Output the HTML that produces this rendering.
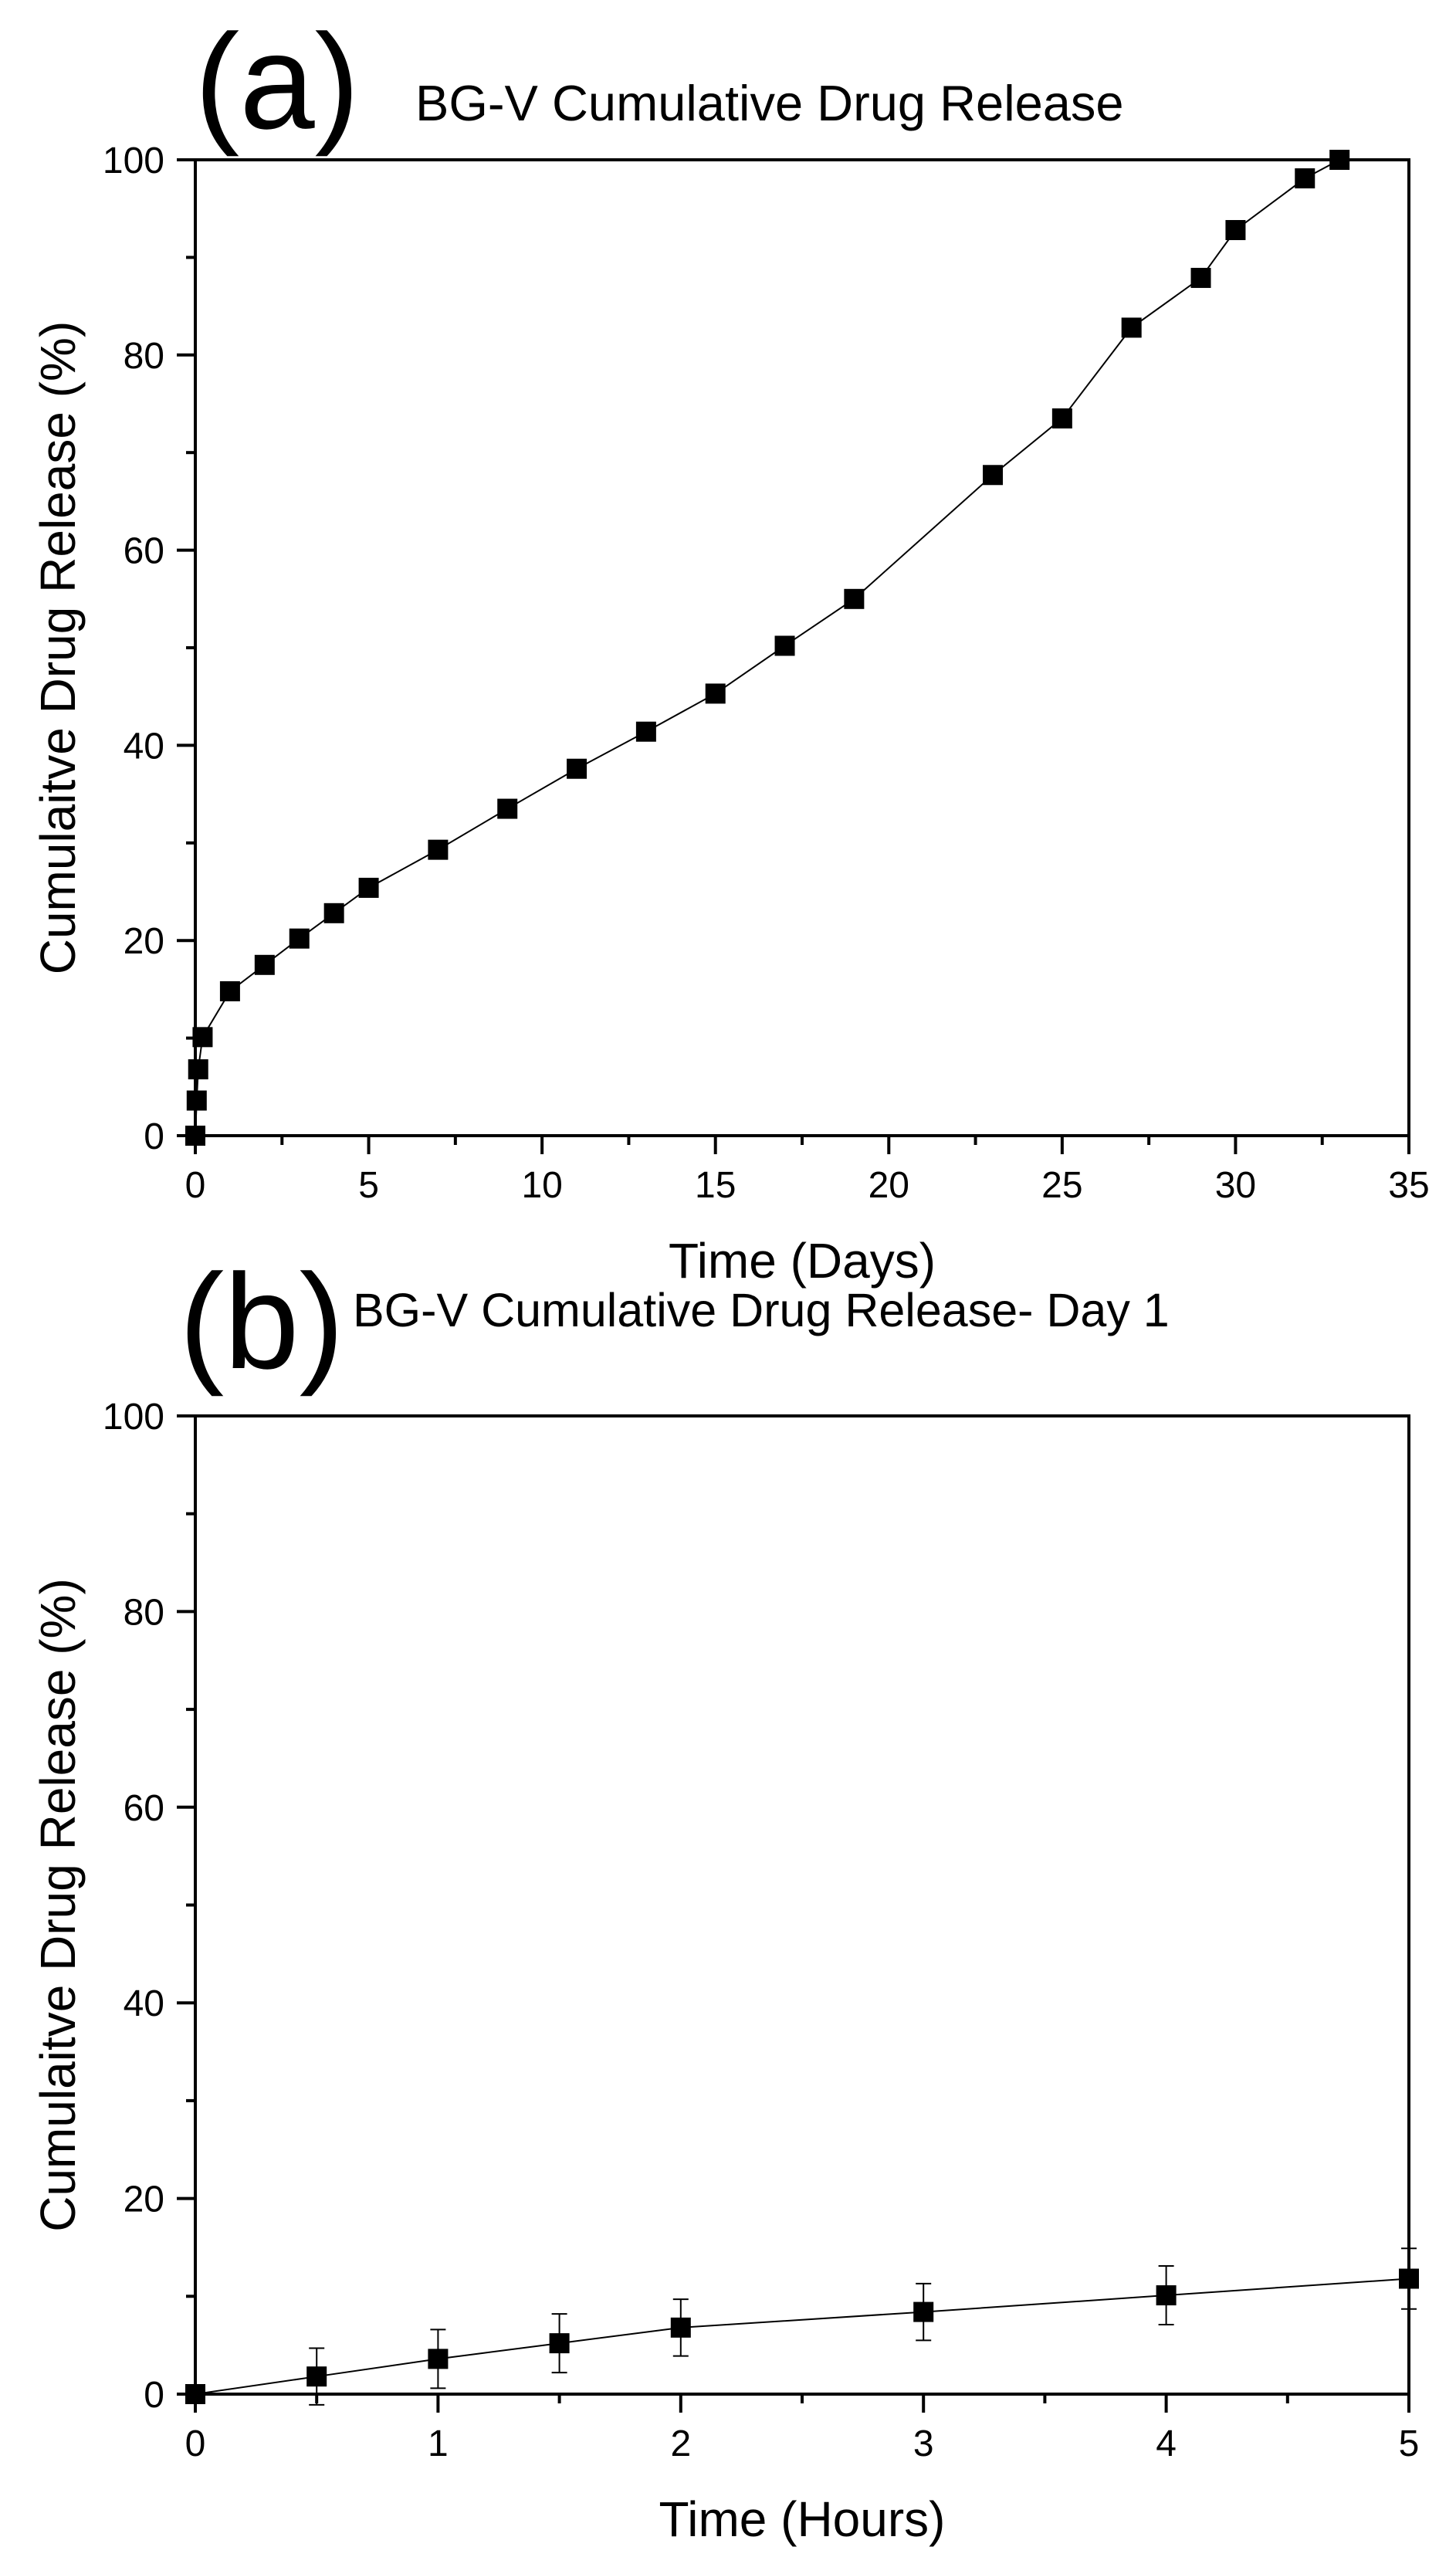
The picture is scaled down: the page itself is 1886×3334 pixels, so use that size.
<!DOCTYPE html>
<html><head><meta charset="utf-8"><style>
html,body{margin:0;padding:0;background:#fff;}
svg{display:block;font-family:"Liberation Sans",Arial,sans-serif;}
</style></head><body>
<svg id="fig" width="1886" height="3334" viewBox="0 0 1886 3334" xmlns="http://www.w3.org/2000/svg">
<rect x="0" y="0" width="1886" height="3334" fill="#fff"/>
<g id="chartA"></g>
<g id="chartB"></g>
</svg>
<script>
const daysX = [0, 0.04, 0.083, 0.21, 1, 2, 3, 4, 5, 7, 9, 11, 13, 15, 17, 19, 23, 25, 27, 29, 30, 32, 33];
const daysY = [0, 3.6, 6.8, 10.1, 14.8, 17.5, 20.2, 22.8, 25.4, 29.3, 33.5, 37.6, 41.4, 45.3, 50.2, 55.0, 67.7, 73.5, 82.8, 87.9, 92.8, 98.1, 100];
const hoursX = [0, 0.5, 1, 1.5, 2, 3, 4, 5];
const hoursY = [0, 1.8, 3.6, 5.2, 6.8, 8.4, 10.1, 11.8];
const hoursErr = [0, 2.9, 3.0, 3.0, 2.9, 2.9, 3.0, 3.1];
const yTicks = [0, 20, 40, 60, 80, 100];
const xTicksA = [0, 5, 10, 15, 20, 25, 30, 35];
const xTicksB = [0, 1, 2, 3, 4, 5];

const NS = "http://www.w3.org/2000/svg";
function mk(parent, tag, attrs, text){
  const e = document.createElementNS(NS, tag);
  for (const k in attrs) e.setAttribute(k, attrs[k]);
  if (text !== undefined) e.textContent = text;
  parent.appendChild(e);
  return e;
}

function drawChart(g, cfg){
  const L = 253, R = 1825, T = cfg.top, B = cfg.bottom;
  const sx = v => L + (v - cfg.xmin) / (cfg.xmax - cfg.xmin) * (R - L);
  const sy = v => B - v / 100 * (B - T);

  let d = "";
  cfg.xs.forEach((x, i) => { d += (i ? "L" : "M") + sx(x) + " " + sy(cfg.ys[i]); });
  const line = mk(g, "path", {d: d, fill: "none", stroke: "#000", "stroke-width": 2});
  
  

  if (cfg.err) {
    cfg.xs.forEach((x, i) => {
      const e = cfg.err[i];
      if (!e) return;
      const eg = mk(g, "g", {stroke: "#000", "stroke-width": 2});
      
      
      const cx = sx(x), y1 = sy(cfg.ys[i] + e), y2 = sy(cfg.ys[i] - e);
      mk(eg, "line", {x1: cx, x2: cx, y1: y1, y2: y2});
      mk(eg, "line", {x1: cx - 10, x2: cx + 10, y1: y1, y2: y1});
      mk(eg, "line", {x1: cx - 10, x2: cx + 10, y1: y2, y2: y2});
    });
  }

  cfg.xs.forEach((x, i) => {
    const m = mk(g, "rect", {x: sx(x) - 13, y: sy(cfg.ys[i]) - 13, width: 26, height: 26, fill: "#000"});
    
    
  });

  const fr = mk(g, "rect", {x: L, y: T, width: R - L, height: B - T, fill: "none", stroke: "#000", "stroke-width": 4});
  
  

  for (let v = 0; v <= 100; v += 10) {
    const major = v % 20 === 0;
    mk(g, "line", {x1: L - (major ? 24 : 12), x2: L, y1: sy(v), y2: sy(v), stroke: "#000", "stroke-width": 4});
  }
  yTicks.forEach(v => {
    const t = mk(g, "text", {x: L - 40, y: sy(v) + 17, "font-size": 48, "text-anchor": "end"}, String(v));
    
    
  });

  for (let v = cfg.xmin; v <= cfg.xmax + 1e-9; v += cfg.minor) {
    const major = Math.abs(v / cfg.major - Math.round(v / cfg.major)) < 1e-6;
    mk(g, "line", {x1: sx(v), x2: sx(v), y1: B, y2: B + (major ? 24 : 12), stroke: "#000", "stroke-width": 4});
  }
  cfg.xticks.forEach(v => {
    const t = mk(g, "text", {x: sx(v), y: B + 80, "font-size": 48, "text-anchor": "middle"}, String(v));
    
    
  });

  const xt = mk(g, "text", {x: (L + R) / 2, y: B + 184, "font-size": 64, "text-anchor": "middle"}, cfg.xtitle);
  
  
  const cy = (T + B) / 2;
  const yt = mk(g, "text", {x: 75, y: cy, "font-size": 64, "text-anchor": "middle", "dominant-baseline": "central", transform: "rotate(-90 75 " + cy + ")"}, "Cumulaitve Drug Release (%)");
  
  

  const pl = mk(g, "text", {x: cfg.labelX, y: cfg.labelY, "font-size": 175}, cfg.label);
  
  
  const ti = mk(g, "text", {x: cfg.titleX, y: cfg.titleY, "font-size": cfg.titleSize}, cfg.title);
  
  
}

drawChart(document.getElementById("chartA"), {
  top: 207, bottom: 1471, xmin: 0, xmax: 35, minor: 2.5, major: 5,
  xs: daysX, ys: daysY, xticks: xTicksA, xtitle: "Time (Days)",
  label: "(a)", labelX: 252, labelY: 166, title: "BG-V Cumulative Drug Release", titleX: 538, titleY: 156, titleSize: 65
});
drawChart(document.getElementById("chartB"), {
  top: 1834, bottom: 3101, xmin: 0, xmax: 5, minor: 0.5, major: 1,
  xs: hoursX, ys: hoursY, err: hoursErr, xticks: xTicksB, xtitle: "Time (Hours)",
  label: "(b)", labelX: 232, labelY: 1772, title: "BG-V Cumulative Drug Release- Day 1", titleX: 457, titleY: 1718, titleSize: 61
});
</script>
</body></html>
